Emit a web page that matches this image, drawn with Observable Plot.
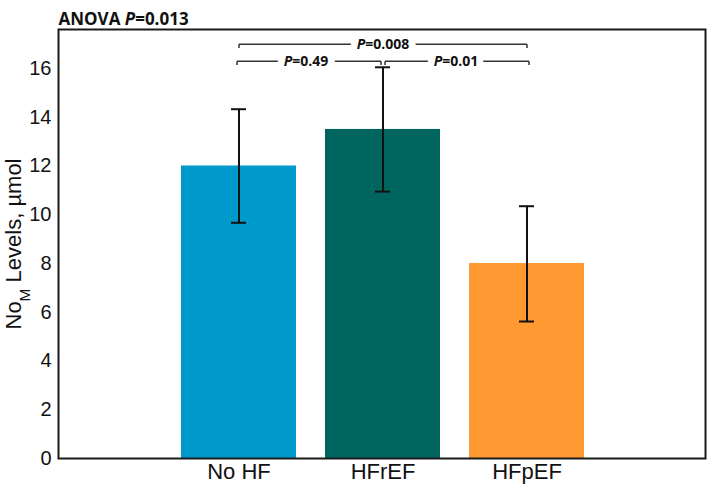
<!DOCTYPE html>
<html><head><meta charset="utf-8">
<script src="https://cdn.jsdelivr.net/npm/d3@7"></script>
<script src="https://cdn.jsdelivr.net/npm/@observablehq/plot@0.6"></script>
<style>body{margin:0;background:#fff}</style>
</head><body><div id="chart"></div>
<script>
const categories = ["No HF", "HFrEF", "HFpEF"];
const means = [12.0, 13.5, 8.0];
const errLow = [9.67, 10.95, 5.62];
const errHigh = [14.33, 16.05, 10.35];
const barColors = ["#0099CC", "#00655F", "#FF9A33"];
const yTicks = [0, 2, 4, 6, 8, 10, 12, 14, 16];
const titleText = "ANOVA P=0.013";
const yLabel = "NoM Levels, µmol";
const bracketFrom = ["No HF", "HFrEF", "No HF"];
const bracketTo = ["HFrEF", "HFpEF", "HFpEF"];
const bracketY = [16.3, 16.3, 17.0];
const bracketLabels = ["P=0.49", "P=0.01", "P=0.008"];

const rows = categories.map((c, i) => ({group: c, mean: means[i], lo: errLow[i], hi: errHigh[i]}));
const brackets = bracketLabels.map((l, i) => ({from: bracketFrom[i], to: bracketTo[i], y: bracketY[i], label: l}));

const segDx = [-2, 2, 0];
const labelDx = [-77, 73, 0];
const drop = 0.16;
const labelFont = {fontFamily: "Open Sans, sans-serif", fontWeight: "bold", fontSize: 14};

const bracketMarks = brackets.flatMap((b, i) => [
  Plot.link([b], {x1: "from", x2: "to", y1: "y", y2: "y", stroke: "#333", strokeWidth: 1.5, dx: segDx[i]}),
  Plot.link([b], {x1: "from", x2: "from", y1: "y", y2: d => d.y - drop, stroke: "#333", strokeWidth: 1.5, dx: segDx[i]}),
  Plot.link([b], {x1: "to", x2: "to", y1: "y", y2: d => d.y - drop, stroke: "#333", strokeWidth: 1.5, dx: segDx[i]}),
  Plot.text([b], {x: () => "HFrEF", y: "y", text: "label", dx: labelDx[i], ...labelFont, fill: "white", stroke: "white", strokeWidth: 14}),
  Plot.text([b], {x: () => "HFrEF", y: "y", text: "label", dx: labelDx[i], ...labelFont, fill: "#111"})
]);

const chart = Plot.plot({
  width: 709,
  height: 484,
  marginLeft: 58,
  marginRight: 4,
  marginTop: 29,
  marginBottom: 26,
  style: {fontSize: "20px", fontFamily: "Liberation Sans, Arial, sans-serif", background: "white", color: "#111"},
  x: {domain: categories, range: [151.8, 613.2], padding: 0.2, label: null, tickSize: 0, tickPadding: 5},
  y: {domain: [0, 17.6], ticks: yTicks, label: null, tickSize: 0, tickPadding: 7},
  color: {domain: categories, range: barColors},
  marks: [
    Plot.barY(rows, {x: "group", y: "mean", fill: "group"}),
    Plot.ruleX(rows, {x: "group", y1: "lo", y2: "hi", stroke: "#111", strokeWidth: 2}),
    Plot.tickY(rows, {x: "group", y: "lo", stroke: "#111", strokeWidth: 2, insetLeft: 50, insetRight: 50}),
    Plot.tickY(rows, {x: "group", y: "hi", stroke: "#111", strokeWidth: 2, insetLeft: 50, insetRight: 50}),
    ...bracketMarks,
    Plot.frame({stroke: "#1a1a1a", strokeWidth: 2}),
    Plot.text([titleText], {frameAnchor: "top-left", dy: -17, textAnchor: "start", fontFamily: "Open Sans, sans-serif", fontWeight: "bold", fontSize: 17, fill: "#111"}),
    Plot.text([yLabel], {frameAnchor: "left", textAnchor: "middle", rotate: -90, dx: -45, fontSize: 22, fill: "#111"})
  ]
});

// x tick labels font size
chart.querySelectorAll("g[aria-label='x-axis tick label'], g[aria-label='x-axis'] text").forEach(g => g.setAttribute("font-size", "22"));

// italic "P" and subscript "M"
const ns = "http://www.w3.org/2000/svg";
chart.querySelectorAll("text").forEach(el => {
  const t = el.textContent;
  if (t.includes("P=") && el.children.length === 0) {
    const idx = t.indexOf("P=");
    el.textContent = "";
    if (idx > 0) el.appendChild(document.createTextNode(t.slice(0, idx)));
    const ts = document.createElementNS(ns, "tspan");
    ts.setAttribute("font-style", "italic");
    ts.textContent = "P";
    el.appendChild(ts);
    el.appendChild(document.createTextNode(t.slice(idx + 1)));
  } else if (t === yLabel) {
    el.textContent = "";
    el.appendChild(document.createTextNode("No"));
    const ts = document.createElementNS(ns, "tspan");
    ts.setAttribute("baseline-shift", "sub");
    ts.setAttribute("font-size", "70%");
    ts.textContent = "M";
    el.appendChild(ts);
    el.appendChild(document.createTextNode(" Levels, µmol"));
  }
});

document.getElementById("chart").appendChild(chart);
</script>
</body></html>
